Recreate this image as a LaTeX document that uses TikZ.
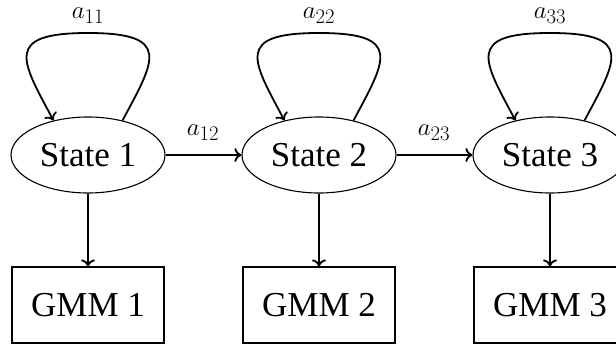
\documentclass[tikz,border=0pt]{standalone}
\usepackage{fontspec}
\setmainfont{Liberation Serif}
\usetikzlibrary{shapes.geometric,arrows.meta}
\begin{document}
\begin{tikzpicture}[x=1pt,y=-1pt,
  statenode/.style={ellipse,draw,line width=1.1pt,minimum width=154pt,minimum height=76pt,
    inner sep=0pt,font=\fontsize{35}{40}\selectfont},
  gmmbox/.style={rectangle,draw,line width=1.1pt,minimum width=152pt,minimum height=76pt,
    inner sep=0pt,font=\fontsize{35}{40}\selectfont},
  link/.style={line width=1.8pt,-{Computer Modern Rightarrow[length=7pt,width=14pt]}},
  prob/.style={font=\fontsize{28}{32}\selectfont,inner sep=0pt}]
\useasboundingbox (0,0) rectangle (616,345);

% hidden states
\node[statenode] (s1) at (88,155) {State 1};
\node[statenode] (s2) at (319,155) {State 2};
\node[statenode] (s3) at (550,155) {State 3};

% emission models
\node[gmmbox] (g1) at (88,305) {GMM 1};
\node[gmmbox] (g2) at (319,305) {GMM 2};
\node[gmmbox] (g3) at (550,305) {GMM 3};

% tops of the self-loops
\coordinate (t1) at (88,33);
\coordinate (t2) at (319,33);
\coordinate (t3) at (550,33);

% self transitions
\foreach \i in {1,2,3} {
  \draw[link] (s\i.45) .. controls +(32,-60) and +(85,0) .. (t\i)
                       .. controls +(-85,0) and +(-32,-60) .. (s\i.135);
}
\node[prob] (l11) at (88,16) {$a_{11}$};
\node[prob] (l22) at (319,16) {$a_{22}$};
\node[prob] (l33) at (550,16) {$a_{33}$};

% forward transitions
\draw[link] (s1) -- (s2);
\draw[link] (s2) -- (s3);
\node[prob] (l12) at (203,133) {$a_{12}$};
\node[prob] (l23) at (434,133) {$a_{23}$};

% emissions
\draw[link] (s1) -- (g1);
\draw[link] (s2) -- (g2);
\draw[link] (s3) -- (g3);
\end{tikzpicture}
\end{document}
